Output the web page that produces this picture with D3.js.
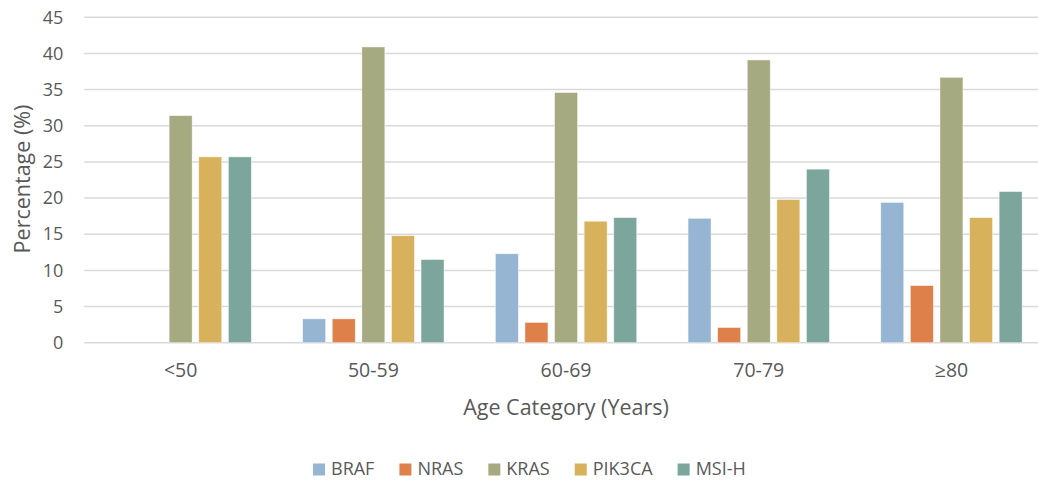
<!DOCTYPE html>
<html>
<head>
<meta charset="utf-8">
<script src="https://cdn.jsdelivr.net/npm/d3@7"></script>
<style>
  html, body { margin: 0; padding: 0; background: #fff; }
  svg { display: block; font-family: "Open Sans", sans-serif; }
</style>
</head>
<body>
<svg id="chart" width="1038" height="481"></svg>
<script>
// Mutation / MSI-H prevalence by age group
const categories = ["<50", "50-59", "60-69", "70-79", "≥80"];
const seriesNames = ["BRAF", "NRAS", "KRAS", "PIK3CA", "MSI-H"];
const braf   = [0, 3.3, 12.3, 17.2, 19.4];
const nras   = [0, 3.3, 2.8, 2.1, 7.9];
const kras   = [31.4, 40.9, 34.6, 39.1, 36.7];
const pik3ca = [25.7, 14.8, 16.8, 19.8, 17.3];
const msih   = [25.7, 11.5, 17.3, 24.0, 20.9];
const yTicks = [0, 5, 10, 15, 20, 25, 30, 35, 40, 45];
const colors = ["#95B5D3", "#DE8049", "#A5AA80", "#D8B15D", "#7CA69C"];

const seriesValues = [braf, nras, kras, pik3ca, msih];
const rows = categories.map((c, i) => ({
  category: c,
  values: seriesNames.map((s, j) => ({ series: s, value: seriesValues[j][i] }))
}));

const svg = d3.select("#chart");
const textColor = "#595959";
const gridColor = "#D9D9D9";

const plot = { left: 84.3, right: 1047.8, top: 17.3, bottom: 342.7 };

const y = d3.scaleLinear().domain([0, 45]).range([plot.bottom, plot.top]);
const x0 = d3.scaleBand().domain(categories).range([plot.left, plot.right]).padding(0);
const x1 = d3.scaleBand().domain(seriesNames).range([0, x0.bandwidth()])
  .paddingInner(0.223).paddingOuter(0.867);
const color = d3.scaleOrdinal().domain(seriesNames).range(colors);

// horizontal gridlines
svg.append("g")
  .selectAll("line")
  .data(yTicks)
  .join("line")
  .attr("x1", plot.left).attr("x2", plot.right)
  .attr("y1", d => y(d)).attr("y2", d => y(d))
  .attr("stroke", gridColor)
  .attr("stroke-width", 1.5);

// y axis labels
const yAxis = svg.append("g")
  .attr("transform", `translate(${plot.left},0)`)
  .call(d3.axisLeft(y).tickValues(yTicks).tickSize(0).tickPadding(21));
yAxis.select(".domain").remove();
yAxis.selectAll("text")
  .attr("fill", textColor)
  .style("font-size", "18px")
  .style("font-family", "'Open Sans', sans-serif");

// bars
const groups = svg.append("g")
  .selectAll("g")
  .data(rows)
  .join("g")
  .attr("transform", d => `translate(${x0(d.category)},0)`);

groups.selectAll("rect")
  .data(d => d.values.filter(v => v.value > 0))
  .join("rect")
  .attr("x", d => x1(d.series))
  .attr("width", x1.bandwidth())
  .attr("y", d => y(d.value))
  .attr("height", d => y(0) - y(d.value))
  .attr("fill", d => color(d.series))
  .attr("stroke", "#ffffff")
  .attr("stroke-opacity", 0.6)
  .attr("stroke-width", 0.75);

// x axis labels
const xAxis = svg.append("g")
  .attr("transform", `translate(0,${plot.bottom})`)
  .call(d3.axisBottom(x0).tickSize(0).tickPadding(20));
xAxis.select(".domain").remove();
xAxis.selectAll("text")
  .attr("fill", textColor)
  .style("font-size", "19.5px")
  .style("font-family", "'Open Sans', sans-serif");

// axis titles
svg.append("text")
  .attr("transform", `translate(30,179) rotate(-90)`)
  .attr("text-anchor", "middle")
  .attr("fill", textColor)
  .style("font-size", "21.5px")
  .text("Percentage (%)");

svg.append("text")
  .attr("x", 566)
  .attr("y", 415)
  .attr("text-anchor", "middle")
  .attr("fill", textColor)
  .style("font-size", "21.5px")
  .text("Age Category (Years)");

// legend
const legend = svg.append("g").attr("transform", "translate(313,469)");
let lx = 0;
seriesNames.forEach(name => {
  const item = legend.append("g").attr("transform", `translate(${lx},0)`);
  item.append("rect")
    .attr("x", 0).attr("y", -5.5)
    .attr("width", 12).attr("height", 12)
    .attr("fill", color(name));
  const t = item.append("text")
    .attr("x", 18).attr("y", 0)
    .attr("dy", "0.36em")
    .attr("fill", textColor)
    .style("font-size", "18px")
    .text(name);
  lx += 18 + t.node().getComputedTextLength() + 25;
});
</script>
</body>
</html>
